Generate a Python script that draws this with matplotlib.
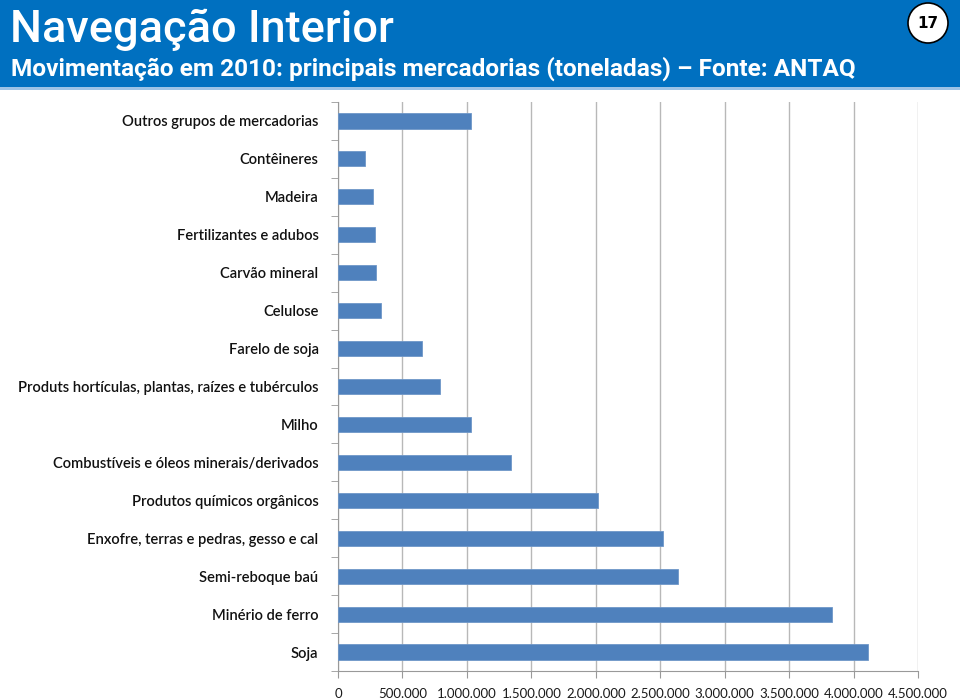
import matplotlib
matplotlib.use("Agg")
import matplotlib.pyplot as plt
from matplotlib.patches import Rectangle, Circle
from matplotlib.ticker import FuncFormatter, MultipleLocator

categories = [
    "Outros grupos de mercadorias",
    "Contêineres",
    "Madeira",
    "Fertilizantes e adubos",
    "Carvão mineral",
    "Celulose",
    "Farelo de soja",
    "Produts hortículas, plantas, raízes e tubérculos",
    "Milho",
    "Combustíveis e óleos minerais/derivados",
    "Produtos químicos orgânicos",
    "Enxofre, terras e pedras, gesso e cal",
    "Semi-reboque baú",
    "Minério de ferro",
    "Soja",
]
values = [1032000, 210000, 270000, 288000, 295000, 334000, 648000, 793000,
          1033000, 1340000, 2018000, 2525000, 2639000, 3834000, 4110000]

title = "Navegação Interior"
subtitle = "Movimentação em 2010: principais mercadorias (toneladas) – Fonte: ANTAQ"
page = "17"

W, H = 960, 699
fig = plt.figure(figsize=(W / 100, H / 100), dpi=100)

# header band
fig.patches.append(Rectangle((0, 1 - 87 / H), 1, 87 / H, transform=fig.transFigure,
                             facecolor="#0070C0", edgecolor="none", zorder=0))
fig.patches.append(Rectangle((0, 1 - 90 / H), 1, 3 / H, transform=fig.transFigure,
                             facecolor="#9DC3E6", edgecolor="none", zorder=0))
fig.text(10 / W, 1 - 30 / H, title, color="white", fontsize=32.5, fontweight="medium",
         family=["Roboto", "DejaVu Sans"], va="center", ha="left")
fig.text(11 / W, 1 - 69 / H, subtitle, color="white", fontsize=17.6, fontweight="bold",
         family=["Roboto", "DejaVu Sans"], va="center", ha="left")

# page circle
ax_c = fig.add_axes([0, 0, 1, 1], zorder=5)
ax_c.set_xlim(0, W)
ax_c.set_ylim(H, 0)
ax_c.axis("off")
ax_c.add_patch(Circle((928, 23), 20, facecolor="white", edgecolor="black", lw=1.2))
ax_c.text(928, 24, page, ha="center", va="center", fontsize=11, fontweight="bold",
          family="DejaVu Sans")

# chart
left, right, top, bottom = 338, 918, 102, 671
ax = fig.add_axes([left / W, 1 - bottom / H, (right - left) / W, (bottom - top) / H])
y = list(range(len(categories)))
ax.barh(y, values, height=0.4, color="#4F81BD", edgecolor="#6F97C8", linewidth=0.6, zorder=3)
ax.set_ylim(len(categories) - 0.5, -0.5)
ax.set_xlim(0, 4500000)
ax.xaxis.set_major_locator(MultipleLocator(500000))
ax.xaxis.set_major_formatter(FuncFormatter(lambda v, p: "0" if v == 0 else f"{int(v):,}".replace(",", ".")))
ax.grid(axis="x", color="#B8B8B8", linewidth=1, zorder=0)
ax.set_yticks(y)
ax.set_yticklabels(categories, family=["Lato", "DejaVu Sans"], fontsize=10.6,
                   fontweight="semibold", color="#111111")
ax.set_yticks([i + 0.5 for i in range(-1, len(categories))], minor=True)
ax.tick_params(axis="y", which="major", length=0, pad=14)
ax.tick_params(axis="y", which="minor", length=5, color="#999999", direction="out")
ax.tick_params(axis="x", length=5, color="#999999", labelsize=9.5, pad=7, labelcolor="#1a1a1a")
for lab in ax.get_xticklabels():
    lab.set_family(["Lato", "DejaVu Sans"])
for s in ["top", "right"]:
    ax.spines[s].set_visible(False)
for s in ["left", "bottom"]:
    ax.spines[s].set_color("#999999")

fig.savefig("out.png", dpi=100)
